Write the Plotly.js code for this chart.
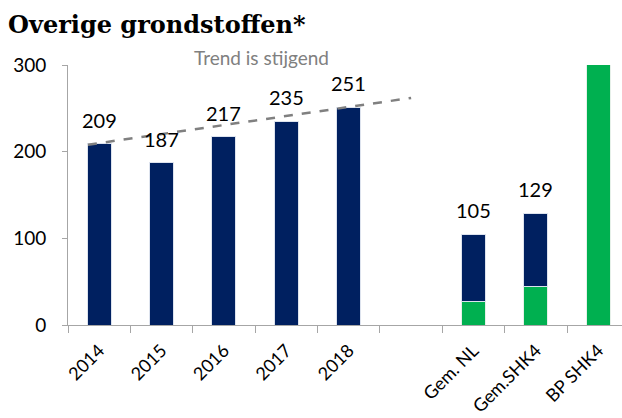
<!DOCTYPE html>
<html>
<head>
<meta charset="utf-8">
<script src="https://cdn.plot.ly/plotly-3.0.1.min.js"></script>
<style>
  html, body { margin: 0; padding: 0; background: #ffffff; }
  #chart { width: 622px; height: 418px; }
</style>
</head>
<body>
<div id="chart"></div>
<script>
(function () {
  "use strict";

  const CATEGORIES = ["2014", "2015", "2016", "2017", "2018", "", "Gem. NL", "Gem.SHK4", "BP SHK4"];
  const NAVY_VALUES = [209, 187, 217, 235, 251, null, 78, 85, null];
  const GREEN_VALUES = [null, null, null, null, null, null, 27, 44, 350];
  const TOTAL_LABELS = [209, 187, 217, 235, 251, null, 105, 129, null];
  const TREND_X = [-0.18, 5.0];
  const TREND_Y = [208, 262];
  const TREND_TEXT = "Trend is stijgend";
  const TITLE = "Overige grondstoffen*";

  const NAVY = "#002060";
  const GREEN = "#00b050";
  const AXIS_GREY = "#a6a6a6";
  const FONT = "Lato, Carlito, Calibri, sans-serif";

  const positions = CATEGORIES.map((_, i) => i);
  const labelled = positions.filter((i) => CATEGORIES[i] !== "");
  const boundaries = CATEGORIES.map((_, i) => i - 0.5).concat([CATEGORIES.length - 0.5]);
  const xRange = [-0.5, 8.38];

  const traces = [
    {
      type: "bar",
      x: positions,
      y: GREEN_VALUES,
      width: 0.385,
      marker: { color: GREEN, line: { color: "#e6f0e9", width: 1 } },
      hoverinfo: "skip"
    },
    {
      type: "bar",
      x: positions,
      y: NAVY_VALUES,
      width: 0.385,
      marker: { color: NAVY, line: { color: "#dde3ee", width: 1 } },
      hoverinfo: "skip"
    },
    {
      type: "scatter",
      mode: "lines",
      x: TREND_X,
      y: TREND_Y,
      line: { color: "#808080", width: 2.5, dash: "dash" },
      hoverinfo: "skip"
    },
    // empty trace so the boundary-tick axis is drawn
    { type: "scatter", x: [], y: [], xaxis: "x2", yaxis: "y", hoverinfo: "skip" }
  ];

  const annotations = positions
    .filter((i) => TOTAL_LABELS[i] !== null)
    .map((i) => ({
      x: i,
      y: TOTAL_LABELS[i],
      xref: "x",
      yref: "y",
      text: String(TOTAL_LABELS[i]),
      showarrow: false,
      yanchor: "middle",
      yshift: 24,
      font: { family: FONT, size: 20, color: "#000000" }
    }));

  annotations.push({
    x: 2.6,
    y: 1.03,
    xref: "x",
    yref: "paper",
    text: TREND_TEXT,
    showarrow: false,
    yanchor: "middle",
    font: { family: FONT, size: 19, color: "#808080" }
  });

  const layout = {
    width: 622,
    height: 418,
    margin: { t: 65, r: 0, b: 93, l: 68 },
    paper_bgcolor: "#ffffff",
    plot_bgcolor: "#ffffff",
    showlegend: false,
    barmode: "stack",
    font: { family: FONT, color: "#000000" },
    title: {
      text: "<b>" + TITLE + "</b>",
      x: 0.013,
      xanchor: "left",
      y: 0.94,
      yanchor: "middle",
      font: { family: "DejaVu Serif, serif", size: 24, color: "#000000" }
    },
    xaxis: {
      type: "linear",
      range: xRange,
      tickvals: labelled,
      ticktext: labelled.map((i) => CATEGORIES[i]),
      tickangle: -45,
      ticks: "",
      ticklabelstandoff: 7,
      showgrid: false,
      zeroline: false,
      showline: true,
      linecolor: AXIS_GREY,
      linewidth: 1,
      tickfont: { family: FONT, size: 18, color: "#000000" }
    },
    xaxis2: {
      type: "linear",
      overlaying: "x",
      anchor: "y",
      side: "bottom",
      range: xRange,
      tickvals: boundaries,
      ticks: "outside",
      ticklen: 7,
      tickcolor: AXIS_GREY,
      showticklabels: false,
      showgrid: false,
      zeroline: false,
      showline: false
    },
    yaxis: {
      range: [0, 300],
      tickvals: [0, 100, 200, 300],
      ticks: "outside",
      ticklen: 5,
      tickcolor: AXIS_GREY,
      ticklabelstandoff: 12,
      showgrid: false,
      zeroline: false,
      showline: true,
      linecolor: AXIS_GREY,
      linewidth: 1,
      tickfont: { family: FONT, size: 19, color: "#000000" }
    },
    annotations: annotations
  };

  window.Plotly.newPlot("chart", traces, layout, { displayModeBar: false, staticPlot: true });
})();
</script>
</body>
</html>
